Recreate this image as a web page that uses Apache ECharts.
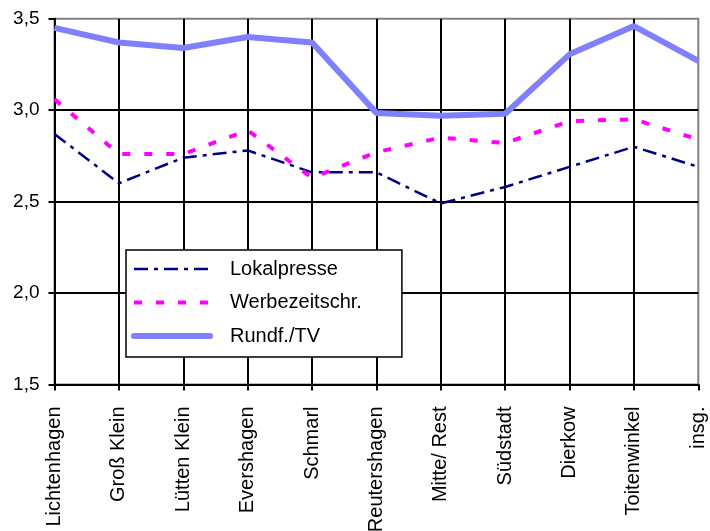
<!DOCTYPE html>
<html>
<head>
<meta charset="utf-8">
<script src="https://cdn.jsdelivr.net/npm/echarts@6/dist/echarts.min.js"></script>
<style>
  html, body { margin: 0; padding: 0; background: #fff; }
  #chart { width: 710px; height: 531px; }
</style>
</head>
<body>
<div id="chart"></div>
<script>
// Stadtteile
var categories = ['Lichtenhagen', 'Groß Klein', 'Lütten Klein', 'Evershagen', 'Schmarl',
  'Reutershagen', 'Mitte/ Rest', 'Südstadt', 'Dierkow', 'Toitenwinkel', 'insg.'];

// Durchschnittswerte je Medium
var lokalpresse = [2.87, 2.60, 2.74, 2.78, 2.66, 2.66, 2.49, 2.58, 2.69, 2.80, 2.69];
var werbezeitschr = [3.06, 2.76, 2.76, 2.89, 2.63, 2.77, 2.85, 2.82, 2.94, 2.95, 2.84];
var rundfunkTV = [3.45, 3.37, 3.34, 3.40, 3.37, 2.985, 2.97, 2.98, 3.305, 3.46, 3.27];

var seriesNames = ['Lokalpresse', 'Werbezeitschr.', 'Rundf./TV'];

var FONT = 'Arial, "Liberation Sans", sans-serif';

var chart = echarts.init(document.getElementById('chart'), null, { renderer: 'canvas' });

chart.setOption({
  animation: false,
  backgroundColor: '#ffffff',
  grid: {
    left: 54.5, right: 11.7, top: 18.7, bottom: 146.5,
    outerBoundsMode: 'none',
    show: true, borderColor: '#808080', borderWidth: 2, backgroundColor: 'transparent'
  },
  legend: {
    orient: 'vertical',
    left: 126, top: 250,
    padding: [9, 40, 11, 5],
    itemWidth: 76, itemHeight: 20, itemGap: 13.5,
    borderColor: '#000', borderWidth: 1.5, backgroundColor: '#fff',
    textStyle: { fontFamily: FONT, fontSize: 20, color: '#000', padding: [0, 0, 0, 15] },
    itemStyle: { opacity: 0 },
    data: [
      { name: seriesNames[0], lineStyle: { width: 2.5 } },
      { name: seriesNames[1], lineStyle: { width: 4 } },
      { name: seriesNames[2], lineStyle: { width: 6, cap: 'round' } }
    ]
  },
  xAxis: {
    type: 'category',
    data: categories,
    boundaryGap: false,
    axisLine: { lineStyle: { color: '#000', width: 2 } },
    axisTick: { show: true, length: 6, lineStyle: { color: '#000', width: 2 } },
    axisLabel: {
      rotate: 90, margin: 22, interval: 0,
      fontFamily: FONT, fontSize: 20, color: '#000'
    },
    splitLine: { show: true, showMaxLine: false, lineStyle: { color: '#000', width: 2 } }
  },
  yAxis: {
    type: 'value',
    min: 1.5, max: 3.5, interval: 0.5,
    axisLine: { show: true, lineStyle: { color: '#000', width: 2 } },
    axisTick: { show: true, length: 6, lineStyle: { color: '#000', width: 2 } },
    axisLabel: {
      margin: 15, fontFamily: FONT, fontSize: 19, color: '#000',
      formatter: function (v) { return v.toFixed(1).replace('.', ','); }
    },
    splitLine: { show: true, showMaxLine: false, lineStyle: { color: '#000', width: 2 } }
  },
  series: [
    {
      name: seriesNames[0], type: 'line', data: lokalpresse,
      symbol: 'none', color: '#000080',
      lineStyle: { color: '#000080', width: 2.5, type: [14, 6, 4, 6] }
    },
    {
      name: seriesNames[1], type: 'line', data: werbezeitschr,
      symbol: 'none', color: '#ff00ff',
      lineStyle: { color: '#ff00ff', width: 4, type: [8, 14] }
    },
    {
      name: seriesNames[2], type: 'line', data: rundfunkTV,
      symbol: 'none', color: '#8080ff',
      lineStyle: { color: '#8080ff', width: 6 }
    }
  ]
});
</script>
</body>
</html>
